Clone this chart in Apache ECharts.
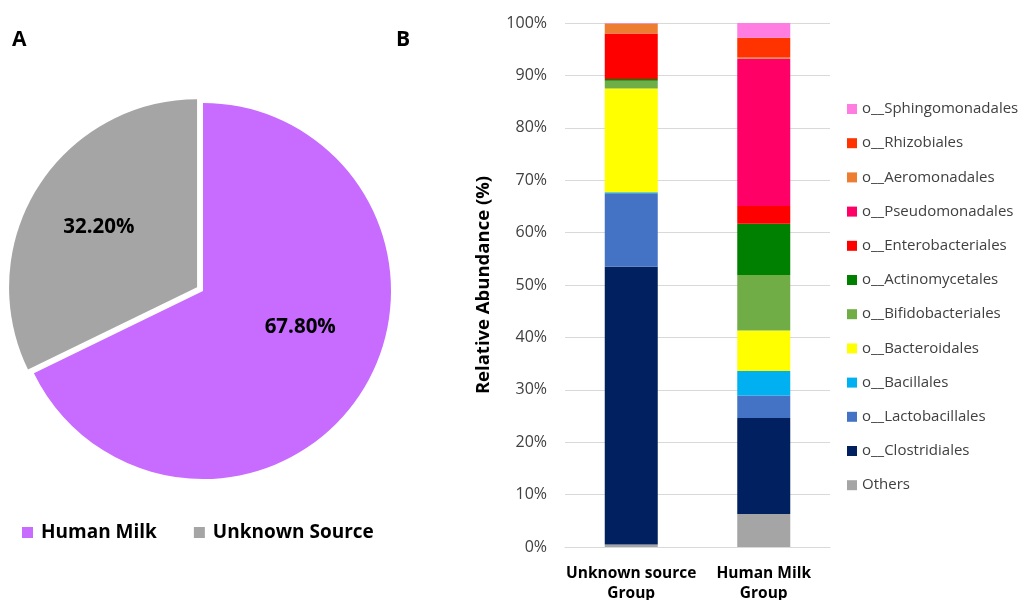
<!DOCTYPE html>
<html>
<head>
<meta charset="utf-8">
<script src="https://cdn.jsdelivr.net/npm/echarts@6/dist/echarts.min.js"></script>
<style>
html,body{margin:0;padding:0;background:#fff;}
#chart{width:1034px;height:600px;}
</style>
</head>
<body>
<div id="chart"></div>
<script>
// Pie data
var pieNames = ['Human Milk', 'Unknown Source'];
var pieValues = [67.8, 32.2];
var pieColors = ['#C86BFF', '#A5A5A5'];

// Bar data
var categories = ['Unknown source\nGroup', 'Human Milk\nGroup'];
var orderNames = ['Others', 'o__Clostridiales', 'o__Lactobacillales', 'o__Bacillales', 'o__Bacteroidales',
  'o__Bifidobacteriales', 'o__Actinomycetales', 'o__Enterobacteriales', 'o__Pseudomonadales',
  'o__Aeromonadales', 'o__Rhizobiales', 'o__Sphingomonadales'];
var others = [0.5, 6.3];
var clostridiales = [53.0, 18.3];
var lactobacillales = [14.0, 4.3];
var bacillales = [0.2, 4.7];
var bacteroidales = [19.8, 7.7];
var bifidobacteriales = [1.5, 10.6];
var actinomycetales = [0.3, 9.8];
var enterobacteriales = [8.7, 3.4];
var pseudomonadales = [0.0, 28.1];
var aeromonadales = [1.9, 0.2];
var rhizobiales = [0.0, 3.8];
var sphingomonadales = [0.1, 2.8];
var orderColors = ['#A5A5A5', '#002060', '#4472C4', '#00B0F0', '#FFFF00', '#70AD47', '#008000',
  '#FF0000', '#FF0066', '#ED7D31', '#FF3300', '#FF7CE0'];
var yTicks = [0, 10, 20, 30, 40, 50, 60, 70, 80, 90, 100];

var orderValues = [others, clostridiales, lactobacillales, bacillales, bacteroidales, bifidobacteriales,
  actinomycetales, enterobacteriales, pseudomonadales, aeromonadales, rhizobiales, sphingomonadales];

var chart = echarts.init(document.getElementById('chart'));

var barSeries = orderNames.map(function (n, i) {
  return {
    name: n, type: 'bar', stack: 'total', barWidth: 53,
    xAxisIndex: 0, yAxisIndex: 0,
    itemStyle: { color: orderColors[i] },
    emphasis: { disabled: true },
    data: orderValues[i]
  };
});

var labelShift = [[15, -15], [-16, -9]];

var option = {
  animation: false,
  textStyle: { fontFamily: 'Open Sans' },
  title: [
    { text: 'A', left: 7, top: 25, textStyle: { fontSize: 21, fontWeight: 'bold', color: '#000', fontFamily: 'Open Sans' } },
    { text: 'B', left: 391, top: 25, textStyle: { fontSize: 21, fontWeight: 'bold', color: '#000', fontFamily: 'Open Sans' } }
  ],
  legend: [
    {
      data: pieNames, left: 17, top: 518, itemWidth: 11, itemHeight: 11, itemGap: 37,
      icon: 'rect', selectedMode: false,
      textStyle: { fontSize: 19, fontWeight: 'bold', color: '#000', fontFamily: 'Open Sans', padding: [0, 0, 0, 3] }
    },
    {
      data: orderNames.slice().reverse(), orient: 'vertical', left: 842, top: 96,
      itemWidth: 10, itemHeight: 10, itemGap: 18.2, icon: 'rect', selectedMode: false,
      textStyle: { fontSize: 15, lineHeight: 16, color: '#404040', fontFamily: 'Open Sans' }
    }
  ],
  grid: { left: 565, right: 204, top: 23, bottom: 53, containLabel: false, outerBoundsMode: 'none' },
  xAxis: {
    type: 'category', data: categories,
    axisLine: { lineStyle: { color: '#d9d9d9' } },
    axisTick: { show: false },
    axisLabel: { interval: 0, margin: 17, fontSize: 15.5, fontWeight: 'bold', color: '#000', lineHeight: 20, fontFamily: 'Open Sans' }
  },
  yAxis: {
    type: 'value', min: 0, max: 100, interval: 10,
    axisLine: { show: false }, axisTick: { show: false },
    splitLine: { lineStyle: { color: '#d9d9d9' } },
    axisLabel: { margin: 18, fontSize: 16, color: '#404040', fontFamily: 'Open Sans',
      formatter: function (v) { return yTicks.indexOf(v) >= 0 ? v + '%' : ''; } },
    name: 'Relative Abundance (%)', nameLocation: 'middle', nameRotate: 90, nameGap: 72,
    nameTextStyle: { fontSize: 18.5, fontWeight: 'bold', color: '#000', fontFamily: 'Open Sans' }
  },
  series: [
    {
      type: 'pie', center: [203, 291], radius: 188, startAngle: 90, clockwise: true,
      selectedMode: 'multiple', selectedOffset: 7,
      emphasis: { disabled: true },
      label: {
        show: true, position: 'inside', fontSize: 20.5, fontWeight: 'bold', color: '#000', fontFamily: 'Open Sans',
        formatter: function (p) { return p.value.toFixed(2) + '%'; }
      },
      labelLayout: function (p) {
        return { dx: labelShift[p.dataIndex][0], dy: labelShift[p.dataIndex][1] };
      },
      data: pieNames.map(function (n, i) {
        return { name: n, value: pieValues[i], itemStyle: { color: pieColors[i] }, selected: i === 1 };
      })
    }
  ].concat(barSeries)
};
chart.setOption(option);
</script>
</body>
</html>
